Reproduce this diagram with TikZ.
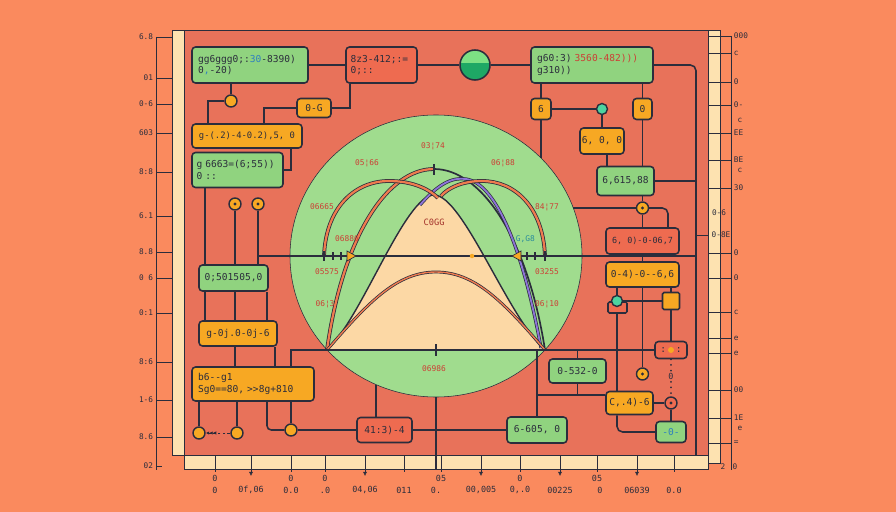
\documentclass[tikz,border=0pt]{standalone}
\usepackage{fontspec}
\setmainfont{DejaVu Sans Mono}[Ligatures=TeXOff]
\usetikzlibrary{arrows.meta,shapes.geometric}

\definecolor{bgor}{HTML}{FA8A5E}
\definecolor{panel}{HTML}{E8725A}
\definecolor{cream}{HTML}{FDE2B0}
\definecolor{ink}{HTML}{2B2D3C}
\definecolor{gbx}{HTML}{90D37F}
\definecolor{circg}{HTML}{A0DC8E}
\definecolor{obx}{HTML}{F7A823}
\definecolor{rbx}{HTML}{EE6B50}
\definecolor{peach}{HTML}{FCD8A5}
\definecolor{lblc}{HTML}{CC3F35}
\definecolor{arcor}{HTML}{EF7B4F}
\definecolor{purp}{HTML}{8E74D8}
\definecolor{tealc}{HTML}{4CD3A0}
\definecolor{bluec}{HTML}{2E7FBF}
\definecolor{gcl}{HTML}{7DE184}
\definecolor{gcd}{HTML}{1EA865}
\definecolor{tealtxt}{HTML}{2A8C9C}

\newlength{\pxu}
\setlength{\pxu}{0.025cm}

\pgfdeclarelayer{back}
\pgfdeclarelayer{wires}
\pgfsetlayers{back,wires,main}

\tikzset{
  wire/.style={draw=ink, line width=1.1pt},
  bx/.style={draw=ink, line width=1.1pt, rounded corners=2.5pt, inner sep=1pt, text=ink, font=\fontsize{6.8}{8}\selectfont},
  gbox/.style={bx, fill=gbx},
  obox/.style={bx, fill=obx},
  rbox/.style={bx, fill=rbx},
  sz/.style 2 args={minimum width=#1\pxu, minimum height=#2\pxu},
  twoline/.style={align=left, text width=#1\pxu},
  knob/.style={circle, draw=ink, line width=1pt, fill=obx, minimum size=12\pxu, inner sep=0pt},
  knobdot/.style={knob, path picture={\fill[ink] (path picture bounding box.center) circle (1.2pt);}},
  tknob/.style={knob, fill=tealc, minimum size=11\pxu},
  lbl/.style={text=lblc, font=\fontsize{5.6}{6}\selectfont, inner sep=0pt},
  axl/.style={text=ink, font=\fontsize{5.5}{6}\selectfont, inner sep=0.5pt},
  orarc/.style={draw=ink, line width=0.55pt, double=arcor, double distance=1.6pt},
}

\begin{document}
\begin{tikzpicture}[x=0.025cm, y=-0.025cm, ink, line width=1.1pt]
  \useasboundingbox (0,0) rectangle (896,512);

  \begin{pgfonlayer}{back}
    % background
    \fill[bgor] (0,0) rectangle (896,512);
    % panel and cream rulers
    \filldraw[fill=panel, draw=ink] (184,30) rectangle (708,455);
    \filldraw[fill=cream, draw=ink] (172,30) rectangle (184,455);
    \filldraw[fill=cream, draw=ink] (184,455) rectangle (708,469);
    \filldraw[fill=cream, draw=ink] (708,30) rectangle (720,463);
    % big circle
    \node[ellipse, draw=ink, fill=circg, minimum width=292\pxu, minimum height=282\pxu, inner sep=0pt] (circ) at (436,256) {};
    % bell
    \filldraw[fill=peach, draw=ink, line width=1pt] (327,350) .. controls (362,318) and (405,195) .. (434,195)
      .. controls (463,195) and (508,318) .. (545,350) -- cycle;
    % tall arch
    \draw[orarc] (327,350) .. controls (343,235) and (388,169) .. (434,169);
    \draw[draw=ink, line width=1.2pt] (434,169) .. controls (480,169) and (527,235) .. (545,350);
    \draw[draw=ink, line width=0.5pt, double=purp, double distance=1.3pt] (420,205) .. controls (438,184) and (452,177) .. (466,179)
      .. controls (495,183) and (522,245) .. (541,348);
    % side arches
    \draw[orarc] (324,256) .. controls (326,206) and (356,181) .. (389,181) .. controls (414,181) and (430,190) .. (438,198);
    \draw[orarc] (545,256) .. controls (543,206) and (514,181) .. (482,181) .. controls (462,181) and (448,188) .. (441,196);
    % lower arch
    \draw[draw=ink, line width=0.5pt, double=arcor, double distance=1pt] (327,350) .. controls (370,300) and (398,272) .. (436,272)
      .. controls (474,272) and (502,300) .. (545,350);
  \end{pgfonlayer}

  % top row
  \node[gbox, sz={116}{36}, twoline=104] (A) at (250,65) {gg6ggg0;:{\color{bluec}30}-8390)\\0{\color{bluec},}-20)};
  \node[rbox, sz={71}{36}, twoline=62] (B) at (381.5,65) {8z3-412;:=\\0;::};
  \node[circle, draw=ink, line width=1.1pt, fill=gcd, minimum size=30\pxu, inner sep=0pt,
    path picture={\fill[gcl] (path picture bounding box.north west) rectangle ([yshift=1.5pt]path picture bounding box.east);}] (gc) at (475,65) {};
  \node[gbox, sz={122}{36}, twoline=110] (F) at (592,65) {g60:3) {\color{lblc}3560-482)))}\\g310))};

  % left column
  \node[knob] (dA) at (231,101) {};
  \node[obox, sz={34}{19}] (C) at (314,108) {0-G};
  \node[obox, sz={110}{24}, font=\fontsize{6.3}{7}\selectfont] (D) at (247,136) {g-(.2)-4-0.2),5, 0};
  \node[gbox, sz={91}{35}, twoline=82] (E) at (237.5,170) {g 6663=(6;55))\\0 ::};
  \node[knobdot] (Y1) at (235,204) {};
  \node[knobdot] (Y2) at (258,204) {};
  \node[gbox, sz={69}{26}] (X) at (233.5,278) {0;501505,0};
  \node[obox, sz={78}{25}] (U) at (238,333.5) {g-0j.0-0j-6};
  \node[obox, sz={122}{34}, twoline=110] (V) at (253,384) {b6--g1\\Sg0==80, >>8g+810};
  \node[knob] (W1) at (199,433) {};
  \node[knob] (W2) at (237,433) {};
  \node[knob] (W3) at (291,430) {};
  \node[rbox, sz={55}{25}] (T) at (384.5,430) {41:3)-4};

  % right column
  \node[obox, sz={20}{21}] (G) at (541,109) {6};
  \node[obox, sz={19}{21}] (H) at (642.5,109) {0};
  \node[tknob] (tc) at (602,109) {};
  \node[obox, sz={44}{26}] (I) at (602,141) {6, 0, 0};
  \node[gbox, sz={57}{29}] (J) at (625.5,181) {6,615,88};
  \node[knobdot] (oc) at (642.5,208) {};
  \node[rbox, sz={73}{26}, font=\fontsize{6}{7}\selectfont] (K) at (642.5,241) {6, 0)-0-06,7};
  \node[obox, sz={73}{25}] (L) at (642.5,274.5) {0-4)-0--6,6};
  \node[rbox, sz={19}{11}, rounded corners=1pt] (pad) at (617.5,307.5) {};
  \node[tknob] (tc2) at (617,301) {};
  \node[obox, sz={17}{17}, rounded corners=1pt] (Z) at (671,301) {};
  \node[rbox, sz={32}{17}] (M) at (671,350) {:\hspace{7pt}:};
  \node[circle, fill=obx, minimum size=6\pxu, inner sep=0pt] (mdot) at (671,350) {};
  \node[fill=panel, inner sep=0.5pt, font=\fontsize{6}{7}\selectfont] (mn) at (671,376) {0};
  \node[knobdot] (O) at (642.5,374) {};
  \node[knobdot, fill=rbx] (N) at (671,403) {};
  \node[obox, sz={47}{23}] (P) at (629.5,403) {C,.4)-6};
  \node[gbox, sz={30}{21}, text=bluec] (Q) at (671,432) {-0-};
  \node[gbox, sz={57}{24}] (S) at (577.5,371) {0-532-0};
  \node[gbox, sz={60}{26}] (R) at (537,430) {6-605, 0};

  % circle marks and labels
  \draw[draw=ink, line width=0.8pt] (324,251) -- (324,261) (333,252) -- (333,260) (341,252) -- (341,260);
  \draw[draw=ink, line width=0.8pt] (545,251) -- (545,261) (535,252) -- (535,260) (527,252) -- (527,260);
  \filldraw[fill=obx, draw=ink, line width=0.5pt] (347,251) -- (356,256) -- (347,261) -- cycle;
  \filldraw[fill=obx, draw=ink, line width=0.5pt] (521,251) -- (512,256) -- (521,261) -- cycle;
  \fill[obx] (472,256) circle (1.6pt);
  \draw[draw=ink, line width=0.8pt] (434,164) -- (434,175) (436,344) -- (436,356);
  \node[lbl] (l1) at (433,146) {03¦74};
  \node[lbl] (l2) at (367,163) {05¦66};
  \node[lbl] (l3) at (503,163) {06¦88};
  \node[lbl] (l4) at (322,207) {06665};
  \node[lbl] (l5) at (547,207) {84¦77};
  \node[lbl, text=lblc!80!black, font=\fontsize{6.2}{7}\selectfont] (l6) at (434,222) {C0GG};
  \node[lbl] (l7) at (347,239) {06886};
  \node[lbl, text=tealtxt] (l8) at (523,239) {-G,G8};
  \node[lbl] (l9) at (327,272) {05575};
  \node[lbl] (l10) at (547,272) {03255};
  \node[lbl] (l11) at (325,304) {06¦3};
  \node[lbl] (l12) at (547,304) {06¦10};
  \node[lbl] (l13) at (434,369) {06986};

  % left scale
  \draw[draw=ink] (156,37) -- (156,470);
  \foreach \y/\t in {37/6.8, 78/01, 104/0-6, 133/603, 172/8:8, 216/6.1, 252/8.8, 278/0 6, 313/0:1, 362/8:6, 400/1-6, 437/8.6}{
    \draw[draw=ink] (156,\y) -- (172,\y);
    \node[axl, anchor=east] (ly\y) at (154,\y) {\t};
  }
  \draw[draw=ink] (156,466) -- (162,466);
  \node[axl, anchor=east] (ly466) at (154,466) {02};

  % right scale
  \draw[draw=ink] (731,36) -- (731,470);
  \foreach \y/\t in {36/000, 53/c, 82/0, 105/0-, 133/EE, 160/BE, 188/30, 253/0, 278/0, 312/c, 338/e, 353/e, 390/00, 418/1E, 443/{=}}{
    \draw[draw=ink] (708,\y) -- (731,\y);
    \node[axl, anchor=west] (ry\y) at (733,\y) {\t};
  }
  \node[axl] (ry213) at (719,213) {0-6};
  \node[axl] (ry235) at (721,235) {0-8E};
  \draw[draw=ink] (696,235) -- (708,235);
  \node[axl] (ry120) at (740,120) {c};
  \node[axl] (ry170) at (740,170) {c};
  \node[axl] (ry428) at (740,428) {e};
  \node[axl] (ry466a) at (723,467) {2};
  \node[axl] (ry466b) at (735,467) {0};

  % bottom scale
  \foreach \x in {215,291,325,404,441,520,597,674}
    \draw[draw=ink] (\x,455) -- (\x,472);
  \foreach \x in {251,365,481,560,637}
    \draw[draw=ink, -{Latex[length=3pt,width=3pt]}] (\x,455) -- (\x,476);
  \foreach \x/\t in {215/0, 291/0, 325/0, 441/05, 520/0, 597/05}
    \node[axl, font=\fontsize{6}{7}\selectfont] (bu\x) at (\x,478) {\t};
  \foreach \x/\t in {215/0, 251/{0f,06}, 291/0.0, 325/.0, 365/{04,06}, 404/011, 436/0., 481/{00,005}, 520/{0,.0}, 560/00225, 600/0, 637/06039, 674/0.0}
    \node[axl, font=\fontsize{6}{7}\selectfont] (bl\x) at (\x,490) {\t};

  \begin{pgfonlayer}{wires}
    \coordinate (xa) at (208,101);
    \coordinate (xb) at (264,108);
    \coordinate (xc) at (350,90);
    \coordinate (xd) at (291,150);
    \coordinate (xe) at (205,200);
    \coordinate (xf) at (267,380);
    \coordinate (xg) at (275,350);
    \coordinate (xh) at (376,400);
    \coordinate (xi) at (607,160);
    \coordinate (xk) at (668,220);
    \coordinate (rb) at (696,455);
    \coordinate (bz) at (436,470);
    \coordinate (jP) at ([yshift=8\pxu]P.west);
    % top row
    \draw[wire] (A) -- (B);
    \draw[wire] (B) -- (gc);
    \draw[wire] (gc) -- (F);
    \draw[wire, rounded corners=4pt] (F) -| (rb);
    % left column
    \draw[wire] (A.south -| dA) -- (dA);
    \draw[wire] (dA) -| (D.north -| xa);
    \draw[wire] (C) -| (D.north -| xb);
    \draw[wire] (C) -| (B.south -| xc);
    \draw[wire] (D.south -| xd) |- (E);
    \draw[wire] (E.south -| xe) -- (X.north -| xe);
    \draw[wire] (Y1) -- (X.north -| Y1);
    \draw[wire] (Y2) -- (X.north -| Y2);
    \draw[wire] (Y2 |- circ) -- (rb |- circ);
    \draw[wire] (X.south -| xe) -- (U.north -| xe);
    \draw[wire] (X.south -| Y1) -- (U.north -| Y1);
    \draw[wire] (X.south -| xf) -- (U.north -| xf);
    \draw[wire] (U.south -| Y1) -- (V.north -| Y1);
    \draw[wire] (U.south -| xg) -- (V.north -| xg);
    \draw[wire] (V.north -| xd) |- (M);
    \draw[wire] (V.south -| W1) -- (W1);
    \draw[wire] (V.south -| W2) -- (W2);
    \draw[wire, rounded corners=3pt] (V.south -| xf) |- (W3);
    \draw[wire] (V.south -| W3) -- (W3);
    \draw[draw=ink, line width=0.6pt, dash pattern=on 2pt off 1.5pt,
      -{Latex[length=2.5pt,width=2.5pt] Latex[length=2.5pt,width=2.5pt] Latex[length=2.5pt,width=2.5pt]}] (W2) -- (W1);
    \draw[wire] (W3) -- (T);
    \draw[wire] (T.north -| xh) -- (xh |- circ.245);
    \draw[wire] (T) -- (R);
    \draw[wire] (circ.south) -- (circ.south |- bz);
    % right column
    \draw[wire] (F.south -| G) -- (G);
    \draw[wire] (G.south) -- (G.south |- circ.43);
    \draw[wire] (G) -- (tc);
    \draw[wire] (tc) -- (I);
    \draw[wire] (F.south -| H) -- (H);
    \draw[wire] (H) -- (J.north -| H);
    \draw[wire] (I.south -| xi) -- (J.north -| xi);
    \draw[wire] (J) -- (J -| rb);
    \draw[wire] (J.south -| oc) -- (oc);
    \draw[wire] (oc) -- (circ.20 |- oc);
    \draw[wire, rounded corners=4pt] (oc) -| (K.north -| xk);
    \draw[wire] (oc) -- (K.north -| oc);
    \draw[wire] (K.south -| oc) -- (L.north -| oc);
    \draw[wire] (L.south -| tc2) -- (tc2);
    \draw[wire] (tc2) -- (Z);
    \draw[wire] (L.south -| Z) -- (Z);
    \draw[wire] (L.south -| oc) -- (O);
    \draw[wire] (tc2) -- (P.north -| tc2);
    \draw[wire] (Z) -- (M);
    \draw[draw=ink, line width=1.4pt, dash pattern=on 0pt off 4pt, line cap=round] (M) -- (N);
    \draw[wire] (P) -- (N);
    \draw[wire] (N) -- (Q);
    \draw[wire, rounded corners=4pt] (P.south -| tc2) |- (Q);
    \draw[wire] (R.north) -- (R.north |- M);
    \draw[wire] (R.north |- jP) -- (jP);
    \draw[wire] (S.north) -- (S.north |- M);
    \draw[wire] (S.south) -- (S.south |- jP);
  \end{pgfonlayer}
\end{tikzpicture}
\end{document}
